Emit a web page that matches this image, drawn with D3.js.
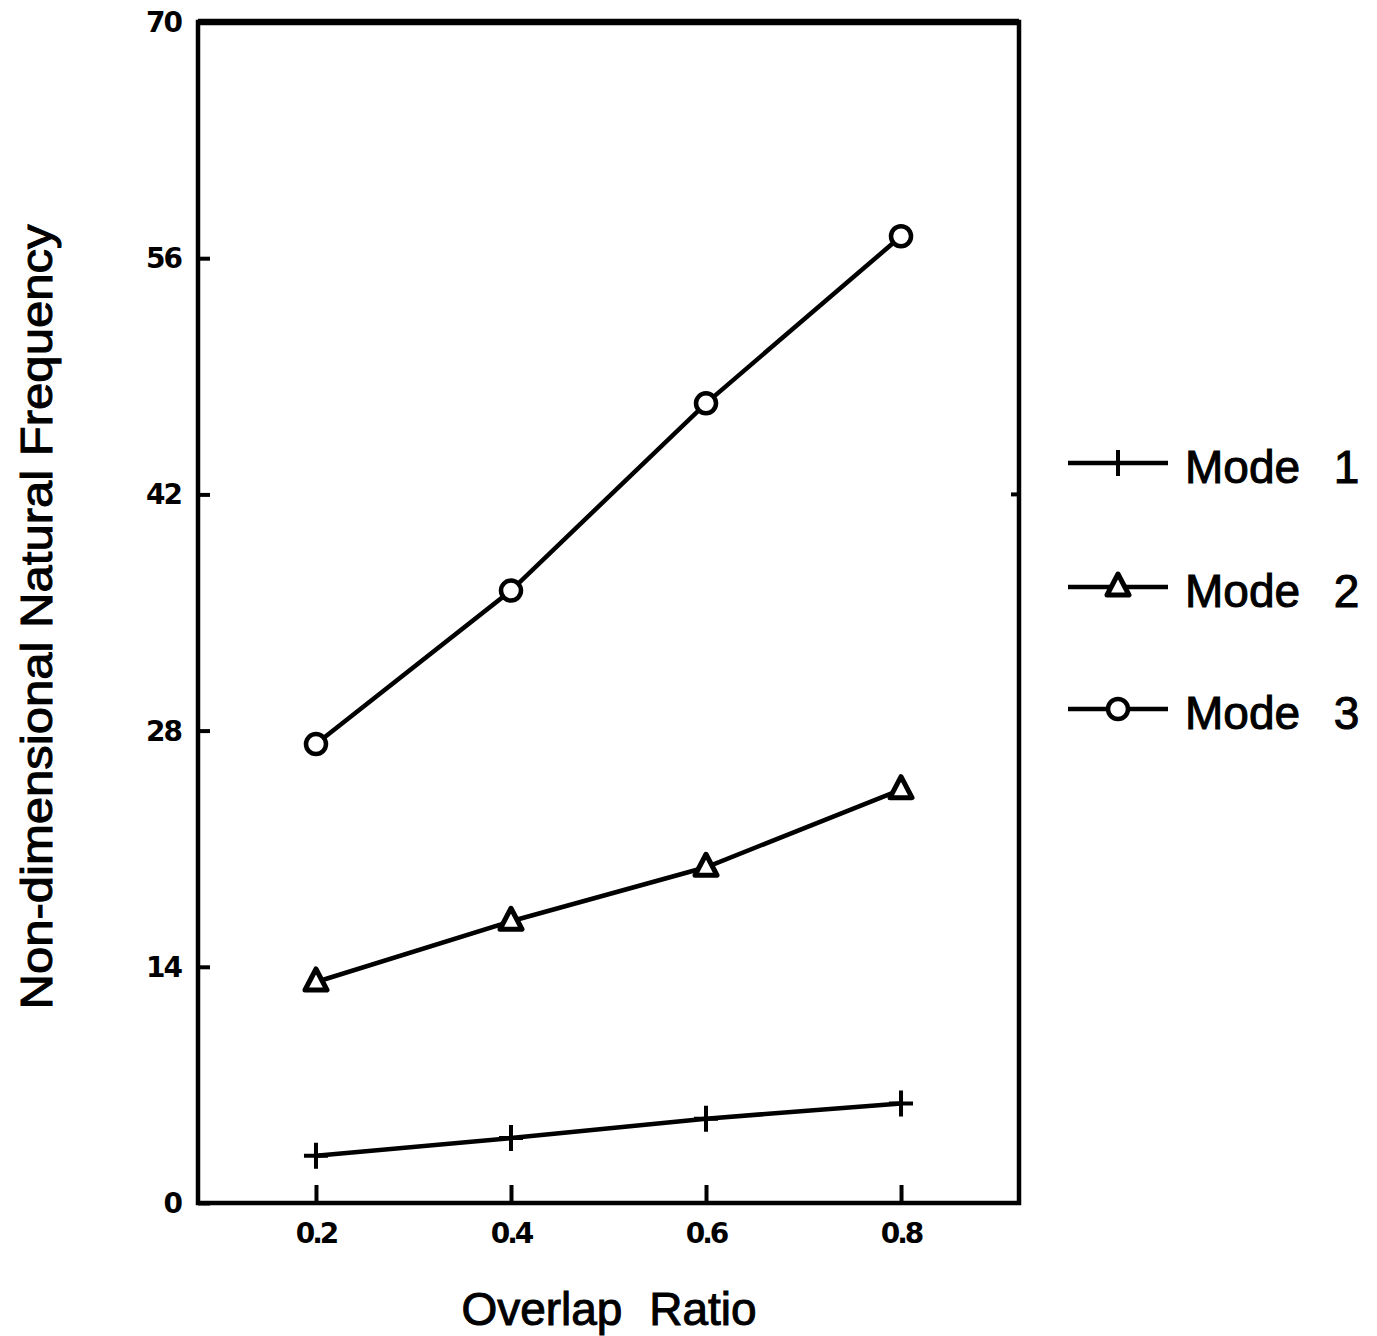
<!DOCTYPE html>
<html>
<head>
<style>
  body { margin: 0; background: #fff; }
  text { fill: #000; }
</style>
</head>
<body>
<svg></svg>
<script src="https://d3js.org/d3.v7.min.js"></script>
<script>
// data
var ratios = [0.2, 0.4, 0.6, 0.8];
var mode1 = [2.8, 3.85, 5.0, 5.9];
var mode2 = [13.1, 16.7, 19.9, 24.5];
var mode3 = [27.2, 36.3, 47.4, 57.3];
var yTicks = [0, 14, 28, 42, 56, 70];
var xTicks = [0.2, 0.4, 0.6, 0.8];
var seriesNames = ["Mode  1", "Mode  2", "Mode  3"];
var markers = ["plus", "triangle", "circle"];

var svg = d3.select("svg").attr("width", 1377).attr("height", 1336);

var plotL = 198, plotR = 1019, plotT = 22, plotB = 1203;

var x = d3.scaleLinear().domain([0.079, 0.921]).range([plotL, plotR]);
var y = d3.scaleLinear().domain([0, 70]).range([plotB, plotT]);

// frame
svg.append("rect")
  .attr("x", plotL).attr("y", plotT)
  .attr("width", plotR - plotL).attr("height", plotB - plotT)
  .attr("fill", "none").attr("stroke", "#000").attr("stroke-width", 4.5);
svg.append("line")
  .attr("x1", plotL).attr("x2", plotR).attr("y1", plotT).attr("y2", plotT)
  .attr("stroke", "#000").attr("stroke-width", 6.5);

// axes, ticks pointing inward
var yAxis = svg.append("g").attr("transform", "translate(" + plotL + ",0)")
  .call(d3.axisRight(y).tickValues(yTicks).tickSize(12).tickFormat(""));
var xAxis = svg.append("g").attr("transform", "translate(0," + plotB + ")")
  .call(d3.axisTop(x).tickValues(xTicks).tickSize(18).tickFormat(""));
[yAxis, xAxis].forEach(function(g) {
  g.select(".domain").remove();
  g.selectAll("line").attr("stroke", "#000").attr("stroke-width", 4);
});
// stray tick on the right side at 42
svg.append("line")
  .attr("x1", plotR).attr("x2", plotR - 8).attr("y1", y(42)).attr("y2", y(42))
  .attr("stroke", "#000").attr("stroke-width", 4);

// tick labels
svg.selectAll(".ylab").data(yTicks).enter().append("text")
  .attr("x", plotL - 17).attr("y", function(d) { return y(d) + 10; })
  .attr("text-anchor", "end")
  .style("font-family", "DejaVu Sans").style("font-weight", "bold").style("font-size", "28px")
  .style("letter-spacing", "-2px")
  .text(function(d) { return d; });
svg.selectAll(".xlab").data(xTicks).enter().append("text")
  .attr("x", function(d) { return x(d); }).attr("y", plotB + 40)
  .attr("text-anchor", "middle")
  .style("font-family", "DejaVu Sans").style("font-weight", "bold").style("font-size", "28px")
  .style("letter-spacing", "-3px")
  .text(function(d) { return d.toFixed(1); });

// axis titles
svg.append("text")
  .attr("x", 609).attr("y", 1325).attr("text-anchor", "middle")
  .style("font-family", "Liberation Sans").style("font-size", "46px")
  .style("word-spacing", "14px")
  .attr("stroke", "#000").attr("stroke-width", 1)
  .text("Overlap Ratio");
svg.append("text")
  .attr("transform", "translate(52,617) rotate(-90)").attr("text-anchor", "middle")
  .style("font-family", "Liberation Sans").style("font-size", "44px")
  .attr("stroke", "#000").attr("stroke-width", 1)
  .attr("textLength", 785).attr("lengthAdjust", "spacingAndGlyphs")
  .text("Non-dimensional Natural Frequency");

// series
var series = [mode1, mode2, mode3].map(function(vals, i) {
  return { name: seriesNames[i], marker: markers[i],
    points: vals.map(function(v, j) { return { r: ratios[j], v: v }; }) };
});

var line = d3.line().x(function(d) { return x(d.r); }).y(function(d) { return y(d.v); });

function drawMarker(g, type, cx, cy) {
  if (type === "plus") {
    g.append("path")
      .attr("d", "M" + (cx - 12) + "," + cy + "H" + (cx + 12) + "M" + cx + "," + (cy - 13) + "V" + (cy + 13))
      .attr("stroke", "#000").attr("stroke-width", 4).attr("fill", "none");
  } else if (type === "triangle") {
    g.append("path")
      .attr("d", "M" + cx + "," + (cy - 13) + "L" + (cx + 11) + "," + (cy + 8) + "L" + (cx - 11) + "," + (cy + 8) + "Z")
      .attr("stroke", "#000").attr("stroke-width", 5).attr("fill", "#fff").attr("stroke-linejoin", "round");
  } else {
    g.append("circle").attr("cx", cx).attr("cy", cy).attr("r", 10)
      .attr("stroke", "#000").attr("stroke-width", 4.5).attr("fill", "#fff");
  }
}

series.forEach(function(s) {
  var g = svg.append("g");
  g.append("path").datum(s.points).attr("d", line)
    .attr("fill", "none").attr("stroke", "#000").attr("stroke-width", 4.5);
  s.points.forEach(function(p) { drawMarker(g, s.marker, x(p.r), y(p.v)); });
});

// legend
var legendY = [463, 587, 709];
series.forEach(function(s, i) {
  var g = svg.append("g");
  g.append("line").attr("x1", 1068).attr("x2", 1168).attr("y1", legendY[i]).attr("y2", legendY[i])
    .attr("stroke", "#000").attr("stroke-width", 4.5);
  drawMarker(g, s.marker, 1118, legendY[i]);
  g.append("text").attr("x", 1185).attr("y", legendY[i] + 20)
    .style("font-family", "Liberation Sans").style("font-size", "46px")
    .style("word-spacing", "4px")
    .attr("stroke", "#000").attr("stroke-width", 1)
    .attr("xml:space", "preserve")
    .text(s.name);
});
</script>
</body>
</html>
